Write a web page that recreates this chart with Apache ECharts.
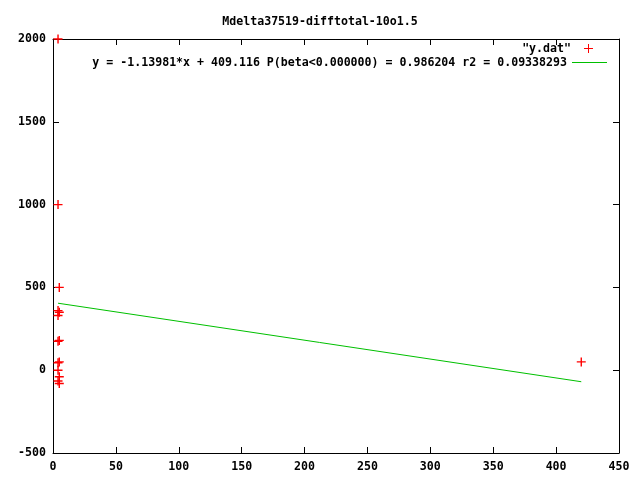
<!DOCTYPE html>
<html>
<head>
<meta charset="utf-8">
<script src="https://cdn.jsdelivr.net/npm/echarts@6/dist/echarts.min.js"></script>
<style>html,body{margin:0;padding:0;background:#fff}#c{width:640px;height:480px}</style>
</head>
<body>
<div id="c"></div>
<script>
const titleText = 'Mdelta37519-difftotal-10o1.5';
const seriesName = '"y.dat"';
const fitName = 'y = -1.13981*x + 409.116 P(beta<0.000000) = 0.986204 r2 = 0.09338293';
const xs = [4, 4, 5, 4, 5, 4, 5, 4, 5, 4, 4, 5, 4, 5, 420];
const ys = [2000, 1000, 500, 360, 350, 330, 180, 175, 50, 45, 0, -40, -65, -80, 50];
const slope = -1.13981;
const intercept = 409.116;
const xTicks = [0, 50, 100, 150, 200, 250, 300, 350, 400, 450];
const yTicks = [-500, 0, 500, 1000, 1500, 2000];

const font = 'DejaVu Sans Mono';
const pts = xs.map((x, i) => [x, ys[i]]);
const xMin = Math.min(...xs), xMax = Math.max(...xs);
const fitLine = [[xMin, intercept + slope * xMin], [xMax, intercept + slope * xMax]];
const plus = 'path://M0,3.8h9v1.4h-9z M3.8,0h1.4v9h-1.4z';

const txt = {fontFamily: font, fontWeight: 'bold', fontSize: 11.6, color: '#000'};
const cssFont = 'bold 11.6px "' + font + '"';
const fmt = v => String(v);
const axisCommon = {
  axisLine: {show: true, onZero: false, lineStyle: {color: '#000', width: 1}},
  axisTick: {show: true, inside: true, length: 6, lineStyle: {color: '#000'}},
  splitLine: {show: false}
};
const chart = echarts.init(document.getElementById('c'), null, {renderer: 'canvas'});
chart.setOption({
  animation: false,
  backgroundColor: '#fff',
  title: {text: titleText, left: 'center', top: 11, textStyle: Object.assign({}, txt)},
  grid: {left: 53, right: 21, top: 39, bottom: 27},
  graphic: [
    {type: 'text', x: 571, y: 49, style: {text: seriesName, font: cssFont, fill: '#000', align: 'right', verticalAlign: 'middle'}},
    {type: 'rect', shape: {x: 584, y: 48, width: 9, height: 1}, style: {fill: '#ff0000'}},
    {type: 'rect', shape: {x: 588, y: 44, width: 1, height: 9}, style: {fill: '#ff0000'}},
    {type: 'text', x: 567, y: 63, style: {text: fitName, font: cssFont, fill: '#000', align: 'right', verticalAlign: 'middle'}},
    {type: 'line', shape: {x1: 572, y1: 62.5, x2: 607, y2: 62.5}, style: {stroke: '#00c000', lineWidth: 1}}
  ],
  xAxis: [
    Object.assign({type: 'value', min: 0, max: 450, interval: 50, position: 'bottom',
      axisLabel: Object.assign({margin: 8, formatter: fmt}, txt)}, axisCommon),
    Object.assign({type: 'value', min: 0, max: 450, interval: 50, position: 'top',
      axisLabel: {show: false}}, axisCommon)
  ],
  yAxis: [
    Object.assign({type: 'value', min: -500, max: 2000, interval: 500, position: 'left',
      axisLabel: Object.assign({margin: 7, formatter: fmt}, txt)}, axisCommon),
    Object.assign({type: 'value', min: -500, max: 2000, interval: 500, position: 'right',
      axisLabel: {show: false}}, axisCommon)
  ],
  series: [
    {name: seriesName, type: 'scatter', data: pts, symbol: plus, symbolSize: 9,
     itemStyle: {color: '#ff0000', opacity: 1}},
    {name: fitName, type: 'line', data: fitLine, showSymbol: false, symbol: 'none',
     lineStyle: {color: '#00c000', width: 1}, itemStyle: {color: '#00c000'}}
  ]
});
</script>
</body>
</html>
